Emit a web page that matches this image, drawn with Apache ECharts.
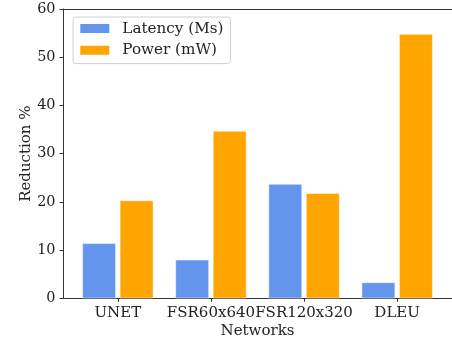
<!DOCTYPE html>
<html>
<head>
<meta charset="utf-8">
<script src="https://cdn.jsdelivr.net/npm/echarts@6/dist/echarts.min.js"></script>
<style>html,body{margin:0;padding:0;background:#fff;}#c{width:452px;height:344px;}</style>
</head>
<body>
<div id="c"></div>
<script>
const categories = ['UNET', 'FSR60x640', 'FSR120x320', 'DLEU'];
const latency = [11.4, 8.0, 23.7, 3.3];
const power = [20.3, 34.7, 21.8, 54.8];
const yTicks = [0, 10, 20, 30, 40, 50, 60];

const FONT = 'DejaVu Serif';
const FS = 15;
const chart = echarts.init(document.getElementById('c'), null, {renderer: 'canvas'});
const idx = categories.map((_, i) => i);
const axisColor = '#333';
chart.setOption({
  animation: false,
  textStyle: {fontFamily: FONT},
  legend: {
    orient: 'vertical', left: 73, top: 17,
    data: ['Latency (Ms)', 'Power (mW)'],
    itemWidth: 31, itemHeight: 11, itemGap: 5.7,
    icon: 'rect',
    backgroundColor: 'rgba(255,255,255,0.8)',
    borderColor: '#d0d0d0', borderWidth: 1, borderRadius: 3,
    padding: [3.6, 7, 5.3, 5.3],
    textStyle: {fontFamily: FONT, fontSize: 15.2, color: '#222', lineHeight: 16, padding: [0, 0, 0, 7]}
  },
  grid: {left: 63, right: -2.8, top: 9, bottom: 45.7, containLabel: false},
  xAxis: [{
    type: 'value', min: -0.589, max: 3.589, position: 'bottom',
    name: 'Networks', nameLocation: 'middle', nameGap: 25.5, nameMoveOverlap: false,
    nameTextStyle: {fontFamily: FONT, fontSize: FS, color: '#222'},
    splitLine: {show: false},
    axisLine: {show: true, onZero: false, lineStyle: {color: axisColor, width: 1}},
    axisTick: {show: true, length: 3.5, customValues: idx, lineStyle: {color: axisColor}},
    axisLabel: {customValues: idx, margin: 7.2, fontFamily: FONT, fontSize: FS, color: '#222',
      formatter: v => categories[Math.round(v)]}
  }, {
    type: 'value', min: -0.589, max: 3.589, position: 'top',
    splitLine: {show: false},
    axisLine: {show: true, onZero: false, lineStyle: {color: axisColor, width: 1}},
    axisTick: {show: false}, axisLabel: {show: false}
  }],
  yAxis: {
    type: 'value', min: 0, max: 60, interval: 10,
    name: 'Reduction %', nameLocation: 'middle', nameGap: 29, nameMoveOverlap: false,
    nameTextStyle: {fontFamily: FONT, fontSize: FS, color: '#222'},
    splitLine: {show: false},
    axisLine: {show: true, onZero: false, lineStyle: {color: axisColor, width: 1}},
    axisTick: {show: true, length: 3.5, lineStyle: {color: axisColor}},
    axisLabel: {margin: 7.5, fontFamily: FONT, fontSize: 14.4, color: '#222',
      formatter: v => yTicks.includes(v) ? String(v) : ''}
  },
  series: [{
    name: 'Latency (Ms)', type: 'bar', xAxisIndex: 0,
    data: latency.map((v, i) => [i, v]),
    barWidth: 33.5, barGap: '12%',
    itemStyle: {color: '#6495ED', borderColor: '#ffffff', borderWidth: 0.5}
  }, {
    name: 'Power (mW)', type: 'bar', xAxisIndex: 0,
    data: power.map((v, i) => [i, v]),
    barWidth: 33.5, barGap: '12%',
    itemStyle: {color: '#FFA500', borderColor: '#ffffff', borderWidth: 0.5}
  }]
});
</script>
</body>
</html>
